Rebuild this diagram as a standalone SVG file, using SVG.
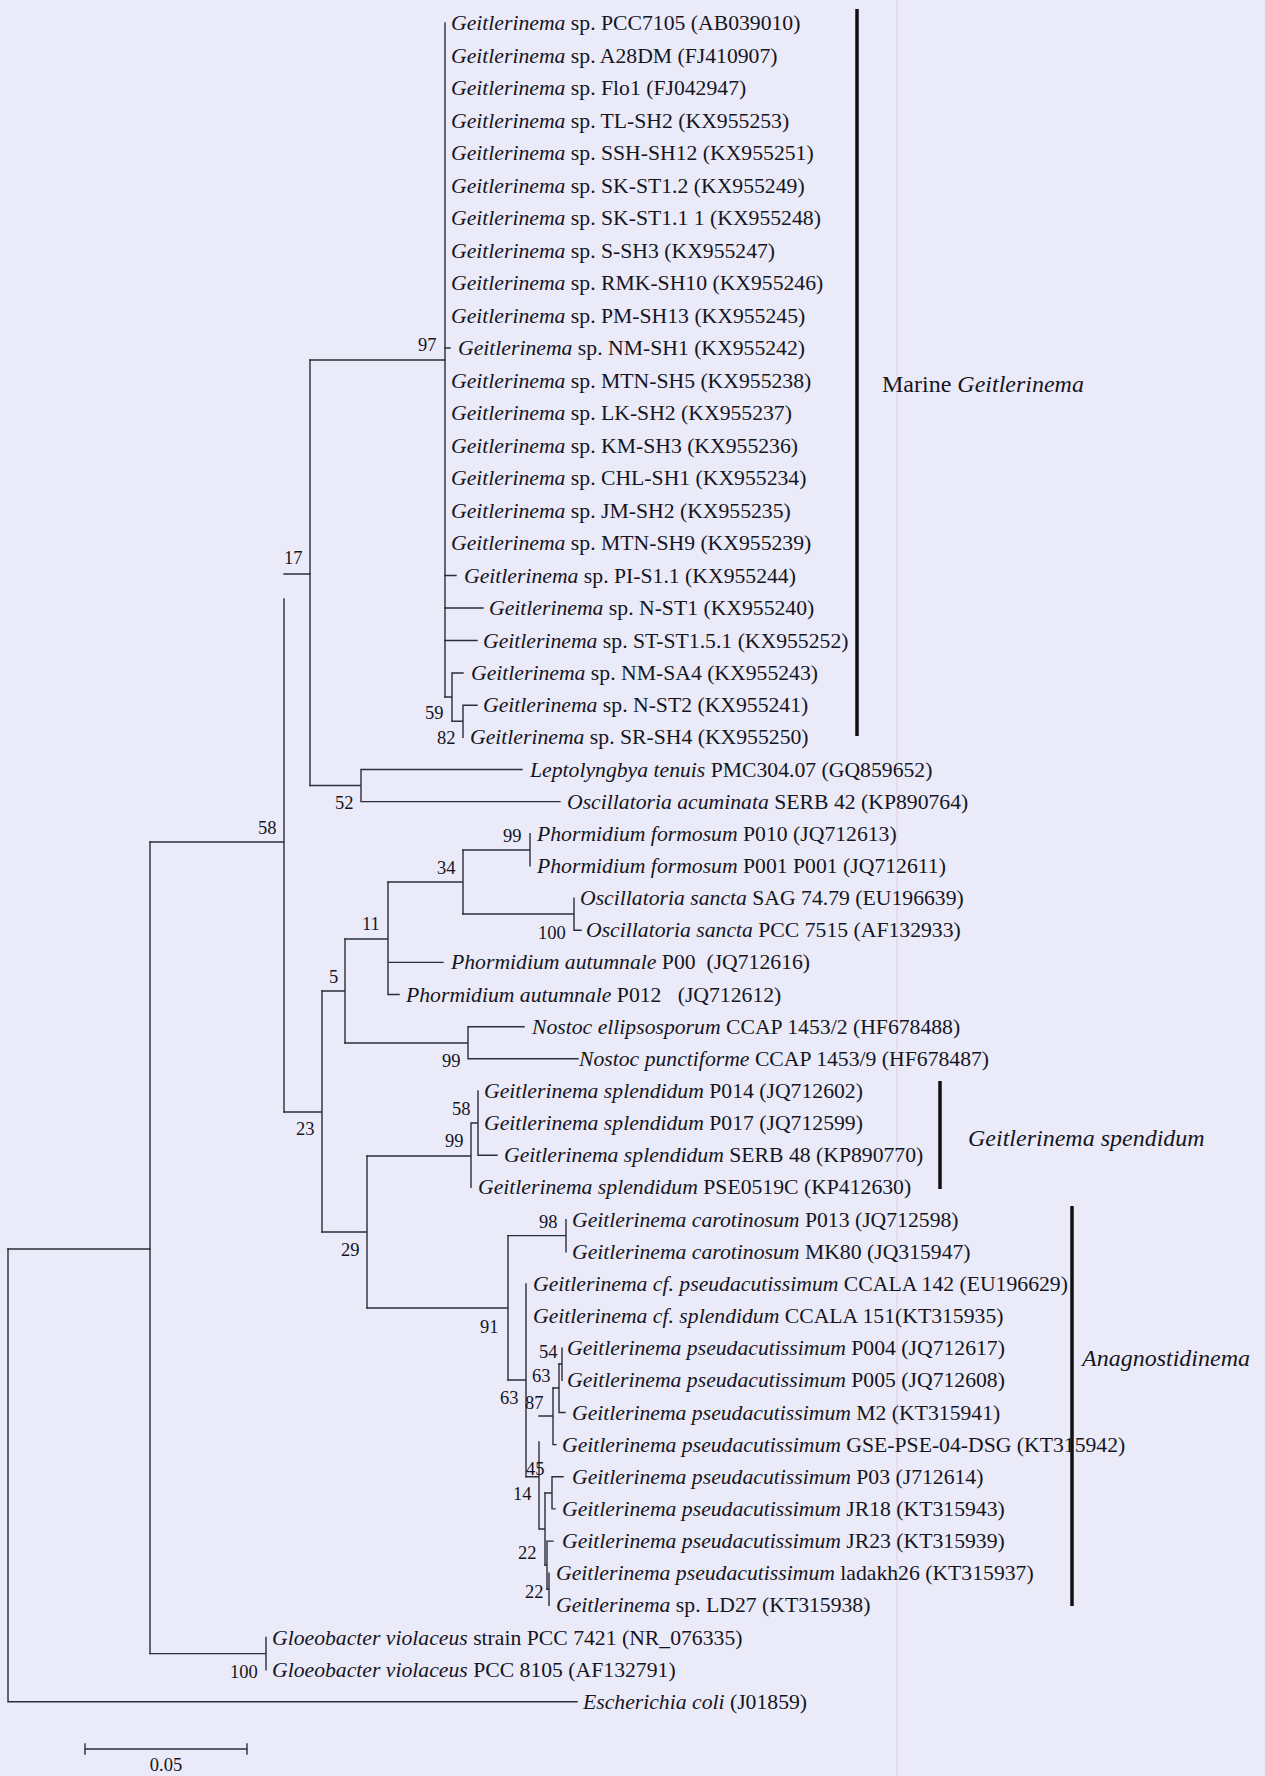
<svg xmlns="http://www.w3.org/2000/svg" width="1265" height="1776" viewBox="0 0 1265 1776">
  <style>
    .br { fill: none; stroke: #2c2c3a; stroke-width: 1.4; stroke-linecap: square; }
    .bar { stroke: #111; stroke-width: 3.5; }
    .lf { font-family: "Liberation Serif", "Times New Roman", serif; font-size: 21.7px; fill: #15151f; }
    .bs { font-family: "Liberation Serif", "Times New Roman", serif; font-size: 18.5px; fill: #15151f; }
    .cl { font-family: "Liberation Serif", "Times New Roman", serif; font-size: 24px; fill: #15151f; }
    .i { font-style: italic; }
    .pre { white-space: pre; }
  </style>

  <rect width="1265" height="1776" fill="#eaeaf8"/>
  <!-- faint vertical streak on the paper -->
  <line x1="897" y1="0" x2="897" y2="1776" stroke="#e4d4e8" stroke-width="1.5"/>

  <!-- branches -->
  <g id="connectors" class="br">
    <!-- root -->
    <path d="M8,1249 V1701.8 H577"/>
    <path d="M8,1249 H150"/>
    <path d="M150,842 V1653.6"/>
    <!-- Gloeobacter -->
    <path d="M150,1653.6 H266 M266,1637.5 V1669.7"/>
    <!-- node 58 -->
    <path d="M150,842 H284 M284,599 V1112 M284,574 H310"/>
    <!-- node 17 -->
    <path d="M310,360 V785.5"/>
    <path d="M310,360 H445"/>
    <!-- marine clade -->
    <path d="M445,23 V697"/>
    <path d="M445,348 H450 M445,575.5 H456 M445,608 H483 M445,640.5 H477"/>
    <path d="M445,697 H452 M452,673 V721.3 M452,673 H463"/>
    <path d="M452,721.3 H463 M463,705.2 V737.3 M463,705.2 H477"/>
    <!-- node 52 -->
    <path d="M310,785.5 H361 M361,769.5 V801.6 M361,769.5 H522 M361,801.6 H560"/>
    <!-- node 23 -->
    <path d="M284,1112 H322 M322,991 V1232"/>
    <!-- node 5 -->
    <path d="M322,991 H345 M345,939 V1043"/>
    <!-- node 11 -->
    <path d="M345,939 H388 M388,882 V994.5 M388,962.4 H443 M388,994.5 H399"/>
    <!-- node 34 -->
    <path d="M388,882 H463 M463,850 V914"/>
    <path d="M463,850 H530 M530,833.8 V865.9"/>
    <path d="M463,914 H574 M574,898.1 V930.2 M574,930.2 H581"/>
    <!-- Nostoc -->
    <path d="M345,1043 H468 M468,1026.7 V1058.8 M468,1026.7 H524 M468,1058.8 H578"/>
    <!-- node 29 -->
    <path d="M322,1232 H367 M367,1156 V1308"/>
    <!-- splendidum -->
    <path d="M367,1156 H471 M471,1123 V1187.4 M471,1123 H478 M478,1091 V1155.3 M478,1155.3 H497"/>
    <!-- node 91 -->
    <path d="M367,1308 H508 M508,1235.6 V1380"/>
    <path d="M508,1235.6 H566 M566,1219.6 V1251.7"/>
    <!-- node 63 (outer) -->
    <path d="M508,1380 H526 M526,1283.9 V1476.8"/>
    <!-- nodes 87 / 63 / 54 -->
    <path d="M539,1416 H553 M553,1388 V1444.6 M553,1444.6 H556"/>
    <path d="M553,1388 H559 M559,1364 V1412.5 M559,1412.5 H565"/>
    <path d="M559,1364 H562 M562,1348.2 V1380.3"/>
    <!-- node 45 and below -->
    <path d="M526,1476.8 H539 M539,1442 V1529 M539,1529 H545 M545,1493 V1565"/>
    <path d="M545,1493 H552 M552,1476.8 V1508.9 M552,1476.8 H563 M552,1508.9 H555"/>
    <path d="M545,1565 H547 M547,1541.1 V1589.3 M547,1541.1 H553"/>
    <path d="M547,1589.3 H549 M549,1573.2 V1605.4"/>
    <!-- scale bar -->
    <path d="M85,1749 H247 M85,1744 V1754 M247,1744 V1754"/>
  </g>

  <!-- bootstrap values -->
  <g id="support" class="bs">
    <g id="n97"><text x="418" y="351">97</text></g>
    <g id="n17"><text x="284" y="564">17</text></g>
    <g id="n59"><text x="425" y="719">59</text></g>
    <g id="n82"><text x="437" y="744">82</text></g>
    <g id="n52"><text x="335" y="809">52</text></g>
    <g id="n58"><text x="258" y="834">58</text></g>
    <g id="n34"><text x="437" y="874">34</text></g>
    <g id="n99a"><text x="503" y="842">99</text></g>
    <g id="n100a"><text x="538" y="939">100</text></g>
    <g id="n11"><text x="362" y="930">11</text></g>
    <g id="n5"><text x="329" y="983">5</text></g>
    <g id="n99b"><text x="442" y="1067">99</text></g>
    <g id="n58b"><text x="452" y="1115">58</text></g>
    <g id="n99c"><text x="445" y="1147">99</text></g>
    <g id="n23"><text x="296" y="1135">23</text></g>
    <g id="n29"><text x="341" y="1256">29</text></g>
    <g id="n98"><text x="539" y="1228">98</text></g>
    <g id="n91"><text x="480" y="1333">91</text></g>
    <g id="n54"><text x="539" y="1358">54</text></g>
    <g id="n63a"><text x="532" y="1382">63</text></g>
    <g id="n63b"><text x="500" y="1404">63</text></g>
    <g id="n87"><text x="525" y="1409">87</text></g>
    <g id="n45"><text x="526" y="1475">45</text></g>
    <g id="n14"><text x="513" y="1500">14</text></g>
    <g id="n22a"><text x="518" y="1559">22</text></g>
    <g id="n22b"><text x="525" y="1598">22</text></g>
    <g id="n100b"><text x="230" y="1678">100</text></g>
  </g>

  <!-- taxa -->
  <g id="taxa" class="lf">
    <g id="t01"><text x="451" y="30"><tspan class="i">Geitlerinema</tspan> sp. PCC7105 (AB039010)</text></g>
    <g id="t02"><text x="451" y="62.5"><tspan class="i">Geitlerinema</tspan> sp. A28DM (FJ410907)</text></g>
    <g id="t03"><text x="451" y="95"><tspan class="i">Geitlerinema</tspan> sp. Flo1 (FJ042947)</text></g>
    <g id="t04"><text x="451" y="127.5"><tspan class="i">Geitlerinema</tspan> sp. TL-SH2 (KX955253)</text></g>
    <g id="t05"><text x="451" y="160"><tspan class="i">Geitlerinema</tspan> sp. SSH-SH12 (KX955251)</text></g>
    <g id="t06"><text x="451" y="192.5"><tspan class="i">Geitlerinema</tspan> sp. SK-ST1.2 (KX955249)</text></g>
    <g id="t07"><text x="451" y="225"><tspan class="i">Geitlerinema</tspan> sp. SK-ST1.1 1 (KX955248)</text></g>
    <g id="t08"><text x="451" y="257.5"><tspan class="i">Geitlerinema</tspan> sp. S-SH3 (KX955247)</text></g>
    <g id="t09"><text x="451" y="290"><tspan class="i">Geitlerinema</tspan> sp. RMK-SH10 (KX955246)</text></g>
    <g id="t10"><text x="451" y="322.5"><tspan class="i">Geitlerinema</tspan> sp. PM-SH13 (KX955245)</text></g>
    <g id="t11"><text x="458" y="355"><tspan class="i">Geitlerinema</tspan> sp. NM-SH1 (KX955242)</text></g>
    <g id="t12"><text x="451" y="387.5"><tspan class="i">Geitlerinema</tspan> sp. MTN-SH5 (KX955238)</text></g>
    <g id="t13"><text x="451" y="420"><tspan class="i">Geitlerinema</tspan> sp. LK-SH2 (KX955237)</text></g>
    <g id="t14"><text x="451" y="452.5"><tspan class="i">Geitlerinema</tspan> sp. KM-SH3 (KX955236)</text></g>
    <g id="t15"><text x="451" y="485"><tspan class="i">Geitlerinema</tspan> sp. CHL-SH1 (KX955234)</text></g>
    <g id="t16"><text x="451" y="517.5"><tspan class="i">Geitlerinema</tspan> sp. JM-SH2 (KX955235)</text></g>
    <g id="t17"><text x="451" y="550"><tspan class="i">Geitlerinema</tspan> sp. MTN-SH9 (KX955239)</text></g>
    <g id="t18"><text x="464" y="582.5"><tspan class="i">Geitlerinema</tspan> sp. PI-S1.1 (KX955244)</text></g>
    <g id="t19"><text x="489" y="615"><tspan class="i">Geitlerinema</tspan> sp. N-ST1 (KX955240)</text></g>
    <g id="t20"><text x="483" y="647.5"><tspan class="i">Geitlerinema</tspan> sp. ST-ST1.5.1 (KX955252)</text></g>
    <g id="t21"><text x="471" y="680"><tspan class="i">Geitlerinema</tspan> sp. NM-SA4 (KX955243)</text></g>
    <g id="t22"><text x="483" y="712.2"><tspan class="i">Geitlerinema</tspan> sp. N-ST2 (KX955241)</text></g>
    <g id="t23"><text x="470" y="744.3"><tspan class="i">Geitlerinema</tspan> sp. SR-SH4 (KX955250)</text></g>
    <g id="t24"><text x="530" y="776.5"><tspan class="i">Leptolyngbya tenuis</tspan> PMC304.07 (GQ859652)</text></g>
    <g id="t25"><text x="567" y="808.6"><tspan class="i">Oscillatoria acuminata</tspan> SERB 42 (KP890764)</text></g>
    <g id="t26"><text x="537" y="840.8"><tspan class="i">Phormidium formosum</tspan> P010 (JQ712613)</text></g>
    <g id="t27"><text x="537" y="872.9"><tspan class="i">Phormidium formosum</tspan> P001 P001 (JQ712611)</text></g>
    <g id="t28"><text x="580" y="905.1"><tspan class="i">Oscillatoria sancta</tspan> SAG 74.79 (EU196639)</text></g>
    <g id="t29"><text x="586" y="937.2"><tspan class="i">Oscillatoria sancta</tspan> PCC 7515 (AF132933)</text></g>
    <g id="t30"><text class="pre" x="451" y="969.4"><tspan class="i">Phormidium autumnale</tspan> P00  (JQ712616)</text></g>
    <g id="t31"><text class="pre" x="406" y="1001.5"><tspan class="i">Phormidium autumnale</tspan> P012   (JQ712612)</text></g>
    <g id="t32"><text x="532" y="1033.7"><tspan class="i">Nostoc ellipsosporum</tspan> CCAP 1453/2 (HF678488)</text></g>
    <g id="t33"><text x="579" y="1065.8"><tspan class="i">Nostoc punctiforme</tspan> CCAP 1453/9 (HF678487)</text></g>
    <g id="t34"><text x="484" y="1098"><tspan class="i">Geitlerinema splendidum</tspan> P014 (JQ712602)</text></g>
    <g id="t35"><text x="484" y="1130.1"><tspan class="i">Geitlerinema splendidum</tspan> P017 (JQ712599)</text></g>
    <g id="t36"><text x="504" y="1162.3"><tspan class="i">Geitlerinema splendidum</tspan> SERB 48 (KP890770)</text></g>
    <g id="t37"><text x="478" y="1194.4"><tspan class="i">Geitlerinema splendidum</tspan> PSE0519C (KP412630)</text></g>
    <g id="t38"><text x="572" y="1226.6"><tspan class="i">Geitlerinema carotinosum</tspan> P013 (JQ712598)</text></g>
    <g id="t39"><text x="572" y="1258.7"><tspan class="i">Geitlerinema carotinosum</tspan> MK80 (JQ315947)</text></g>
    <g id="t40"><text x="533" y="1290.9"><tspan class="i">Geitlerinema cf. pseudacutissimum</tspan> CCALA 142 (EU196629)</text></g>
    <g id="t41"><text x="533" y="1323"><tspan class="i">Geitlerinema cf. splendidum</tspan> CCALA 151(KT315935)</text></g>
    <g id="t42"><text x="567" y="1355.2"><tspan class="i">Geitlerinema pseudacutissimum</tspan> P004 (JQ712617)</text></g>
    <g id="t43"><text x="567" y="1387.3"><tspan class="i">Geitlerinema pseudacutissimum</tspan> P005 (JQ712608)</text></g>
    <g id="t44"><text x="572" y="1419.5"><tspan class="i">Geitlerinema pseudacutissimum</tspan> M2 (KT315941)</text></g>
    <g id="t45"><text x="562" y="1451.6"><tspan class="i">Geitlerinema pseudacutissimum</tspan> GSE-PSE-04-DSG (KT315942)</text></g>
    <g id="t46"><text x="572" y="1483.8"><tspan class="i">Geitlerinema pseudacutissimum</tspan> P03 (J712614)</text></g>
    <g id="t47"><text x="562" y="1515.9"><tspan class="i">Geitlerinema pseudacutissimum</tspan> JR18 (KT315943)</text></g>
    <g id="t48"><text x="562" y="1548.1"><tspan class="i">Geitlerinema pseudacutissimum</tspan> JR23 (KT315939)</text></g>
    <g id="t49"><text x="556" y="1580.2"><tspan class="i">Geitlerinema pseudacutissimum</tspan> ladakh26 (KT315937)</text></g>
    <g id="t50"><text x="556" y="1612.4"><tspan class="i">Geitlerinema</tspan> sp. LD27 (KT315938)</text></g>
    <g id="t51"><text x="272" y="1644.5"><tspan class="i">Gloeobacter violaceus</tspan> strain PCC 7421 (NR_076335)</text></g>
    <g id="t52"><text x="272" y="1676.7"><tspan class="i">Gloeobacter violaceus</tspan> PCC 8105 (AF132791)</text></g>
    <g id="t53"><text x="583" y="1708.8"><tspan class="i">Escherichia coli</tspan> (J01859)</text></g>
  </g>

  <!-- clade brackets and names -->
  <g id="clade-marine">
    <line class="bar" x1="857" y1="9" x2="857" y2="736"/>
    <text class="cl" x="882" y="392">Marine <tspan class="i">Geitlerinema</tspan></text>
  </g>
  <g id="clade-splendidum">
    <line class="bar" x1="940" y1="1081" x2="940" y2="1189"/>
    <text class="cl i" x="968" y="1146">Geitlerinema spendidum</text>
  </g>
  <g id="clade-anagnostidinema">
    <line class="bar" x1="1072" y1="1206" x2="1072" y2="1606"/>
    <text class="cl i" x="1082" y="1366">Anagnostidinema</text>
  </g>

  <!-- scale -->
  <g id="scale">
    <text class="bs" x="166" y="1771" text-anchor="middle">0.05</text>
  </g>
</svg>
